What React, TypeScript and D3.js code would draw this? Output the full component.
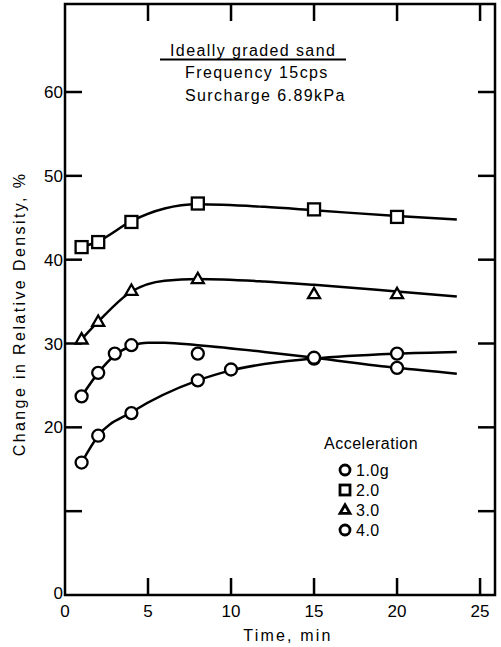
import React from "react";
import * as d3 from "d3";

// ---- data ----
const xTicks = [0, 5, 10, 15, 20, 25];
const yTicks = [10, 20, 30, 40, 50, 60];
const yTickLabels = ["", "20", "30", "40", "50", "60"];

const time2 = [1, 2, 4, 8, 15, 20];
const acc2 = [41.5, 42.1, 44.5, 46.7, 46.0, 45.1];
const time3 = [1, 2, 4, 8, 15, 20];
const acc3 = [30.5, 32.6, 36.3, 37.7, 35.9, 35.9];
const time4 = [1, 2, 3, 4, 8, 15, 20];
const acc4 = [23.7, 26.5, 28.8, 29.8, 28.8, 28.3, 27.1];
const time1 = [1, 2, 4, 8, 10, 15, 20];
const acc1 = [15.8, 19.0, 21.7, 25.6, 26.9, 28.2, 28.8];

// fitted curves (time, value)
const fit2: [number, number][] = [[1, 41.5], [2, 42.2], [4, 44.6], [6, 46.1], [8, 46.6], [12, 46.3], [15, 45.9], [20, 45.2], [23.6, 44.8]];
const fit3: [number, number][] = [[1, 30.5], [2, 32.6], [4, 36.2], [6, 37.5], [8, 37.7], [12, 37.4], [15, 37.0], [20, 36.2], [23.6, 35.6]];
const fit4: [number, number][] = [[1, 23.7], [2, 26.5], [3, 28.6], [4, 29.7], [5, 30.1], [6, 30.1], [8, 29.8], [12, 29.0], [15, 28.3], [20, 27.1], [23.6, 26.4]];
const fit1: [number, number][] = [[1, 15.8], [2, 19.0], [4, 21.8], [8, 25.6], [10, 26.8], [15, 28.2], [20, 28.8], [23.6, 29.0]];

const legendLabels = ["1.0g", "2.0", "3.0", "4.0"];
const legendShapes = ["circle", "square", "triangle", "circle"];

const W = 501;
const H = 647;
const FONT = "'Liberation Sans', Arial, Helvetica, sans-serif";

const x = d3.scaleLinear().domain([0, 25.9]).range([65, 495]);
const y = d3.scaleLinear().domain([0, 70.5]).range([595, 4]);

const line = d3
  .line<[number, number]>()
  .x((d) => x(d[0]))
  .y((d) => y(d[1]))
  .curve(d3.curveMonotoneX);

function Marker({ shape, cx, cy, size = 12, sw = 2.3 }: { shape: string; cx: number; cy: number; size?: number; sw?: number }) {
  if (shape === "circle") {
    return <circle cx={cx} cy={cy} r={size / 2} fill="#fff" stroke="#000" strokeWidth={sw} />;
  }
  if (shape === "square") {
    return <rect x={cx - size / 2} y={cy - size / 2} width={size} height={size} fill="#fff" stroke="#000" strokeWidth={sw} />;
  }
  const s = size;
  const h = s * 0.866;
  const pts = `${cx},${cy - h * 0.6} ${cx + s / 2},${cy + h * 0.4} ${cx - s / 2},${cy + h * 0.4}`;
  return <polygon points={pts} fill="#fff" stroke="#000" strokeWidth={sw} strokeLinejoin="miter" />;
}

export default function App() {
  const series = [
    { t: time1, v: acc1, fit: fit1, shape: "circle" },
    { t: time2, v: acc2, fit: fit2, shape: "square" },
    { t: time3, v: acc3, fit: fit3, shape: "triangle" },
    { t: time4, v: acc4, fit: fit4, shape: "circle" },
  ];
  const tickLen = 17;
  const x0 = x(0);
  const x1 = x(25.9);
  const y0 = y(0);
  const y1 = y(70.5);
  return (
    <svg
      width={W}
      height={H}
      style={{ position: "absolute", left: 0, top: 0, background: "#fff" }}
      fontFamily={FONT}
    >
      <rect x={0} y={0} width={W} height={H} fill="#fff" />
      {/* frame */}
      <rect x={x0} y={y1} width={x1 - x0} height={y0 - y1} fill="none" stroke="#000" strokeWidth={2.5} />
      {/* x ticks bottom & top */}
      {xTicks.filter((t) => t > 0).map((t) => (
        <g key={"xt" + t}>
          <line x1={x(t)} x2={x(t)} y1={y0} y2={y0 - tickLen} stroke="#000" strokeWidth={2.5} />
          <line x1={x(t)} x2={x(t)} y1={y1} y2={y1 + tickLen} stroke="#000" strokeWidth={2.5} />
        </g>
      ))}
      {xTicks.map((t) => (
        <text key={"xl" + t} x={x(t)} y={617} textAnchor="middle" fontSize={17}>
          {t}
        </text>
      ))}
      {/* y ticks left & right */}
      {yTicks.map((v) => (
        <g key={"yt" + v}>
          <line x1={x0} x2={x0 + tickLen} y1={y(v)} y2={y(v)} stroke="#000" strokeWidth={2.5} />
          <line x1={x1} x2={x1 - tickLen} y1={y(v)} y2={y(v)} stroke="#000" strokeWidth={2.5} />
        </g>
      ))}
      {yTicks.map((v, i) => (
        <text key={"yl" + v} x={63} y={y(v) + 6} textAnchor="end" fontSize={17}>
          {yTickLabels[i]}
        </text>
      ))}
      <text x={63} y={y(0) + 4} textAnchor="end" fontSize={17}>
        0
      </text>
      {/* axis titles */}
      <text x={288} y={641} textAnchor="middle" fontSize={16} letterSpacing={2.2}>
        Time, min
      </text>
      <text
        transform={`translate(25,${314}) rotate(-90)`}
        textAnchor="middle"
        fontSize={16}
        letterSpacing={2.4}
      >
        Change in Relative Density, %
      </text>
      {/* curves */}
      {series.map((s, i) => (
        <path key={"c" + i} d={line(s.fit) || ""} fill="none" stroke="#000" strokeWidth={2.5} />
      ))}
      {/* markers */}
      {series.map((s, i) =>
        s.t.map((t, j) => <Marker key={`m${i}-${j}`} shape={s.shape} cx={x(t)} cy={y(s.v[j])} />)
      )}
      {/* annotation */}
      <text x={170} y={56} fontSize={16} letterSpacing={1.4}>
        Ideally graded sand
      </text>
      <line x1={160} x2={346} y1={59.5} y2={59.5} stroke="#000" strokeWidth={2} />
      <text x={185} y={78} fontSize={16} letterSpacing={1.4}>
        Frequency 15cps
      </text>
      <text x={185} y={101} fontSize={16} letterSpacing={1.4}>
        Surcharge 6.89kPa
      </text>
      {/* legend */}
      <text x={324} y={449} fontSize={16} letterSpacing={0.5}>
        Acceleration
      </text>
      {legendLabels.map((l, i) => (
        <g key={"lg" + i}>
          <Marker shape={legendShapes[i]} cx={345} cy={470 + i * 20} size={10} sw={2.8} />
          <text x={356} y={476 + i * 20} fontSize={16} letterSpacing={0.5}>
            {l}
          </text>
        </g>
      ))}
    </svg>
  );
}
